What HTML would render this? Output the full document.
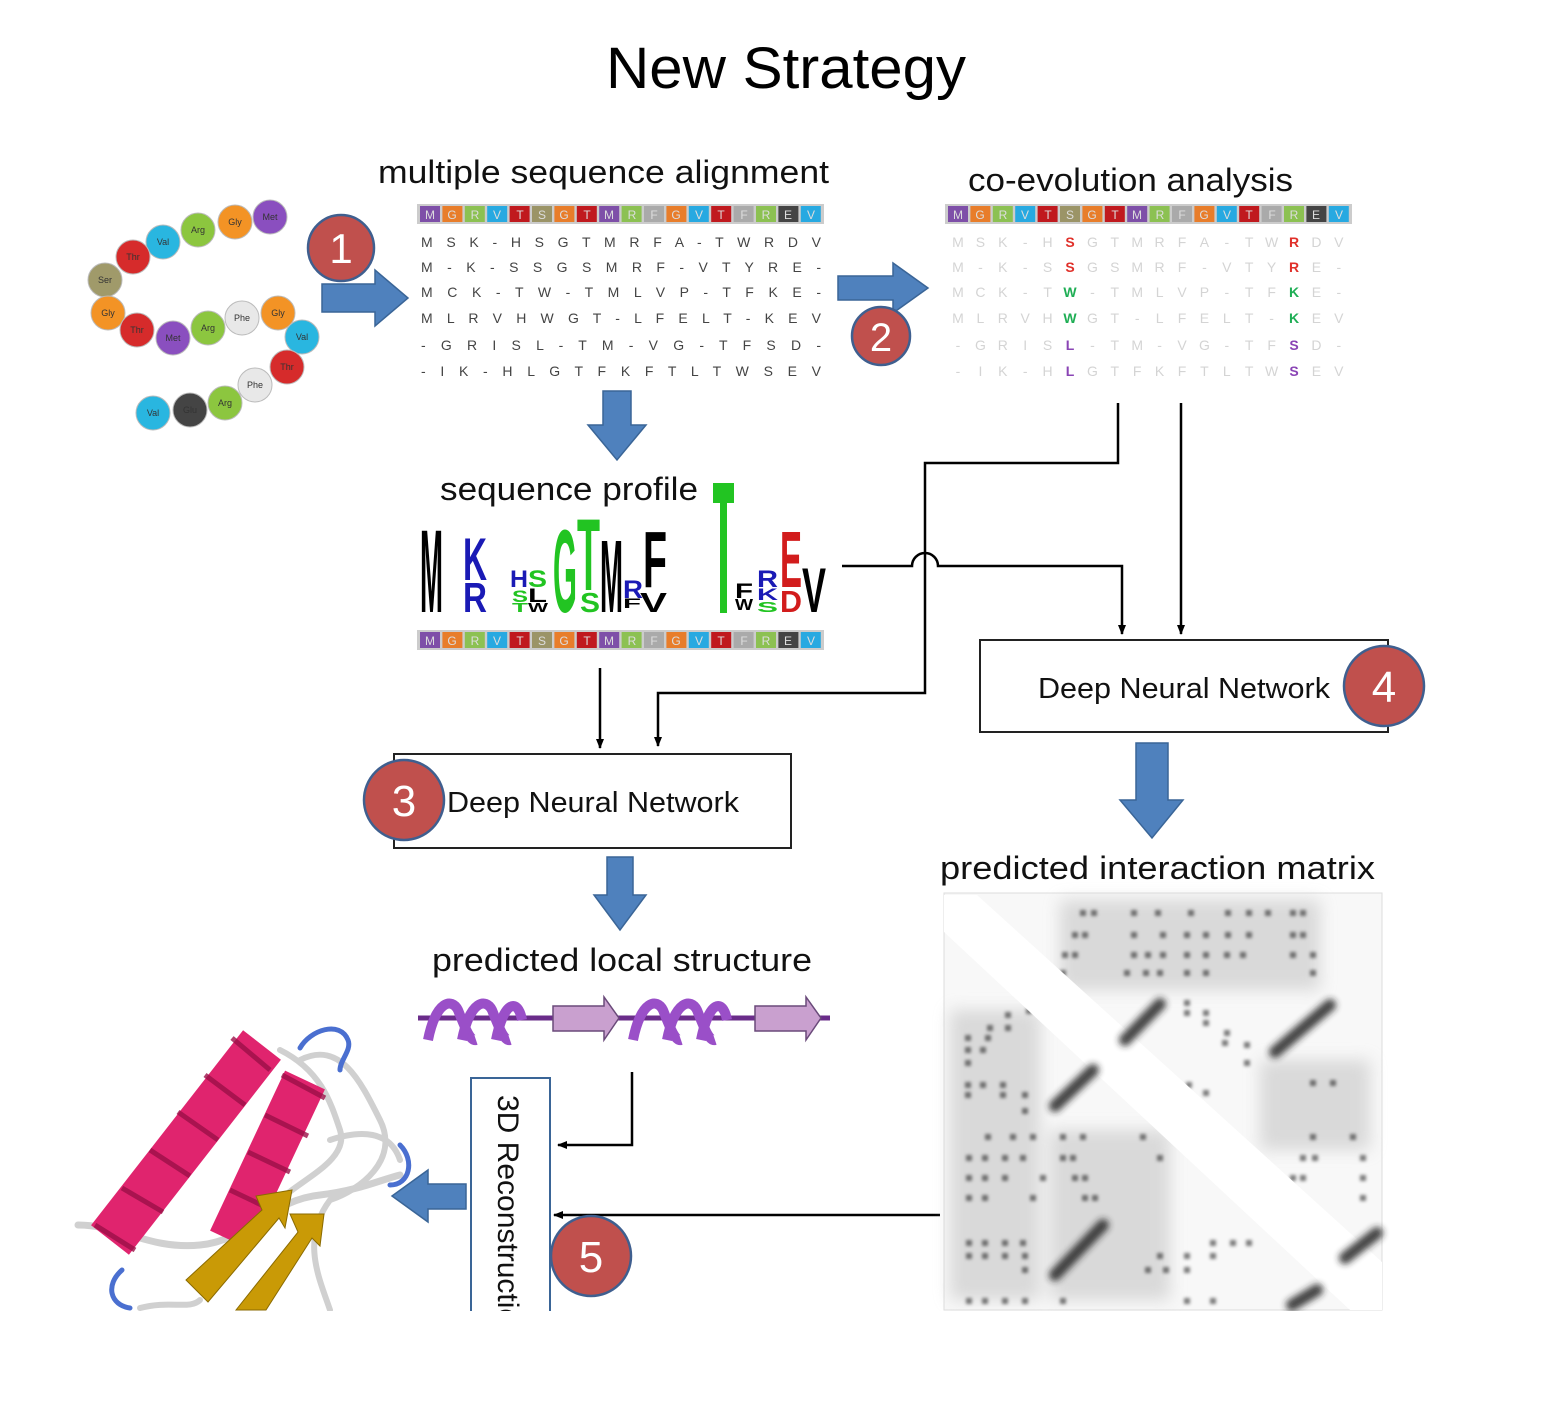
<!DOCTYPE html>
<html><head><meta charset="utf-8"><style>
html,body{margin:0;padding:0;background:#fff;}
svg{display:block;font-family:"Liberation Sans",sans-serif;}
</style></head><body>
<svg width="1550" height="1408" viewBox="0 0 1550 1408" xmlns="http://www.w3.org/2000/svg">
<defs>
<marker id="ah" markerWidth="10" markerHeight="10" refX="9" refY="5" orient="auto" markerUnits="userSpaceOnUse"><path d="M0,1 L10,5 L0,9 Z" fill="#000"/></marker>
<filter id="bl"><feGaussianBlur stdDeviation="3.5"/></filter>
<filter id="bl2"><feGaussianBlur stdDeviation="1.5"/></filter>
<filter id="bl3"><feGaussianBlur stdDeviation="8"/></filter>
</defs>

<text x="786" y="88" font-size="58" text-anchor="middle" fill="#000" textLength="360" lengthAdjust="spacingAndGlyphs">New Strategy</text>

<!-- beads -->
<g font-size="9" text-anchor="middle" fill="#333">
<g stroke="#bbb" stroke-width="1">
<circle cx="270" cy="217" r="17" fill="#8a4fbf"/><circle cx="235" cy="222" r="17" fill="#f39325"/>
<circle cx="198" cy="230" r="17" fill="#8cc63f"/><circle cx="163" cy="242" r="17" fill="#29b6e0"/>
<circle cx="133" cy="257" r="17" fill="#d62b2b"/><circle cx="105" cy="280" r="17" fill="#a09a6a"/>
<circle cx="108" cy="313" r="17" fill="#f39325"/><circle cx="137" cy="330" r="17" fill="#d62b2b"/>
<circle cx="173" cy="338" r="17" fill="#8a4fbf"/><circle cx="208" cy="328" r="17" fill="#8cc63f"/>
<circle cx="242" cy="318" r="17" fill="#e8e8e8"/><circle cx="278" cy="313" r="17" fill="#f39325"/>
<circle cx="302" cy="337" r="17" fill="#29b6e0"/><circle cx="287" cy="367" r="17" fill="#d62b2b"/>
<circle cx="255" cy="385" r="17" fill="#e8e8e8"/><circle cx="225" cy="403" r="17" fill="#8cc63f"/>
<circle cx="190" cy="410" r="17" fill="#444"/><circle cx="153" cy="413" r="17" fill="#29b6e0"/>
</g>
<text x="270" y="220">Met</text><text x="235" y="225">Gly</text><text x="198" y="233">Arg</text><text x="163" y="245">Val</text><text x="133" y="260">Thr</text><text x="105" y="283">Ser</text><text x="108" y="316">Gly</text><text x="137" y="333">Thr</text><text x="173" y="341">Met</text><text x="208" y="331">Arg</text><text x="242" y="321">Phe</text><text x="278" y="316">Gly</text><text x="302" y="340">Val</text><text x="287" y="370">Thr</text><text x="255" y="388">Phe</text><text x="225" y="406">Arg</text><text x="190" y="413">Glu</text><text x="153" y="416">Val</text>
</g>

<!-- labels -->
<text x="378" y="183" font-size="32" fill="#111" textLength="451" lengthAdjust="spacingAndGlyphs">multiple sequence alignment</text>
<text x="968" y="191" font-size="32" fill="#111" textLength="325" lengthAdjust="spacingAndGlyphs">co-evolution analysis</text>
<text x="440" y="500" font-size="32" fill="#111" textLength="258" lengthAdjust="spacingAndGlyphs">sequence profile</text>
<text x="940" y="879" font-size="32" fill="#111" textLength="435" lengthAdjust="spacingAndGlyphs">predicted interaction matrix</text>
<text x="432" y="971" font-size="32" fill="#111" textLength="380" lengthAdjust="spacingAndGlyphs">predicted local structure</text>

<!-- colour bars -->
<g id="bar1" font-size="12" text-anchor="middle" fill="#ddd">
<rect x="417" y="204" width="407" height="20" fill="#ccc"/>
<rect x="420" y="206" width="20" height="16" fill="#7e4fa8"/><rect x="442.4" y="206" width="20" height="16" fill="#e87d2a"/><rect x="464.8" y="206" width="20" height="16" fill="#8cc152"/><rect x="487.2" y="206" width="20" height="16" fill="#27a9e1"/><rect x="509.6" y="206" width="20" height="16" fill="#c0191e"/><rect x="532" y="206" width="20" height="16" fill="#9b9467"/><rect x="554.4" y="206" width="20" height="16" fill="#e87d2a"/><rect x="576.8" y="206" width="20" height="16" fill="#c0191e"/><rect x="599.2" y="206" width="20" height="16" fill="#7e4fa8"/><rect x="621.6" y="206" width="20" height="16" fill="#8cc152"/><rect x="644" y="206" width="20" height="16" fill="#aaa"/><rect x="666.4" y="206" width="20" height="16" fill="#e87d2a"/><rect x="688.8" y="206" width="20" height="16" fill="#27a9e1"/><rect x="711.2" y="206" width="20" height="16" fill="#c0191e"/><rect x="733.6" y="206" width="20" height="16" fill="#aaa"/><rect x="756" y="206" width="20" height="16" fill="#8cc152"/><rect x="778.4" y="206" width="20" height="16" fill="#444"/><rect x="800.8" y="206" width="20" height="16" fill="#27a9e1"/>
<text x="430" y="219">M</text><text x="452" y="219">G</text><text x="475" y="219">R</text><text x="497" y="219">V</text><text x="520" y="219">T</text><text x="542" y="219">S</text><text x="564" y="219">G</text><text x="587" y="219">T</text><text x="609" y="219">M</text><text x="632" y="219">R</text><text x="654" y="219">F</text><text x="676" y="219">G</text><text x="699" y="219">V</text><text x="721" y="219">T</text><text x="744" y="219">F</text><text x="766" y="219">R</text><text x="788" y="219">E</text><text x="811" y="219">V</text>
</g>
<use href="#bar1" x="528" y="0"/>
<use href="#bar1" x="0" y="426"/>

<!-- MSA -->
<g font-size="14" fill="#444" text-anchor="middle">
<text x="621" y="247" textLength="400" lengthAdjust="spacing">M S K - H S G T M R F A - T W R D V</text>
<text x="621" y="272" textLength="400" lengthAdjust="spacing">M - K - S S G S M R F - V T Y R E -</text>
<text x="621" y="297" textLength="400" lengthAdjust="spacing">M C K - T W - T M L V P - T F K E -</text>
<text x="621" y="323" textLength="400" lengthAdjust="spacing">M L R V H W G T - L F E L T - K E V</text>
<text x="621" y="350" textLength="400" lengthAdjust="spacing">- G R I S L - T M - V G - T F S D -</text>
<text x="621" y="376" textLength="400" lengthAdjust="spacing">- I K - H L G T F K F T L T W S E V</text>
</g>
<!-- co-evolution (x positions per column, excluding col 5 and 15) -->
<g font-size="14" fill="#d4d4d4" text-anchor="middle">
<text x="958 980.4 1002.8 1025.2 1047.6 1092.4 1114.8 1137.2 1159.6 1182 1204.4 1226.8 1249.2 1271.6 1316.4 1338.8" y="247">MSK-HGTMRFA-TWDV</text>
<text x="958 980.4 1002.8 1025.2 1047.6 1092.4 1114.8 1137.2 1159.6 1182 1204.4 1226.8 1249.2 1271.6 1316.4 1338.8" y="272">M-K-SGSMRF-VTYE-</text>
<text x="958 980.4 1002.8 1025.2 1047.6 1092.4 1114.8 1137.2 1159.6 1182 1204.4 1226.8 1249.2 1271.6 1316.4 1338.8" y="297">MCK-T-TMLVP-TFE-</text>
<text x="958 980.4 1002.8 1025.2 1047.6 1092.4 1114.8 1137.2 1159.6 1182 1204.4 1226.8 1249.2 1271.6 1316.4 1338.8" y="323">MLRVHGT-LFELT-EV</text>
<text x="958 980.4 1002.8 1025.2 1047.6 1092.4 1114.8 1137.2 1159.6 1182 1204.4 1226.8 1249.2 1271.6 1316.4 1338.8" y="350">-GRIS-TM-VG-TFD-</text>
<text x="958 980.4 1002.8 1025.2 1047.6 1092.4 1114.8 1137.2 1159.6 1182 1204.4 1226.8 1249.2 1271.6 1316.4 1338.8" y="376">-IK-HGTFKFTLTWEV</text>
</g>
<g font-size="14" font-weight="bold" text-anchor="middle">
<text x="1070" y="247" fill="#e0302a">S</text><text x="1294" y="247" fill="#e0302a">R</text>
<text x="1070" y="272" fill="#e0302a">S</text><text x="1294" y="272" fill="#e0302a">R</text>
<text x="1070" y="297" fill="#1fae55">W</text><text x="1294" y="297" fill="#1fae55">K</text>
<text x="1070" y="323" fill="#1fae55">W</text><text x="1294" y="323" fill="#1fae55">K</text>
<text x="1070" y="350" fill="#8a44b5">L</text><text x="1294" y="350" fill="#8a44b5">S</text>
<text x="1070" y="376" fill="#8a44b5">L</text><text x="1294" y="376" fill="#8a44b5">S</text>
</g>

<!-- sequence logo -->
<g font-weight="bold">
<text x="420" y="612" font-size="118" textLength="23" lengthAdjust="spacingAndGlyphs" fill="#000">M</text>
<text x="463" y="580" font-size="60" textLength="24" lengthAdjust="spacingAndGlyphs" fill="#1a1ab5">K</text>
<text x="463" y="612" font-size="42" textLength="24" lengthAdjust="spacingAndGlyphs" fill="#1a1ab5">R</text>
<text x="510" y="587" font-size="24" textLength="18" lengthAdjust="spacingAndGlyphs" fill="#1a1ab5">H</text>
<text x="528" y="587" font-size="24" textLength="19" lengthAdjust="spacingAndGlyphs" fill="#22c422">S</text>
<text x="512" y="602" font-size="17" textLength="16" lengthAdjust="spacingAndGlyphs" fill="#22c422">S</text>
<text x="528" y="602" font-size="19" textLength="19" lengthAdjust="spacingAndGlyphs" fill="#000">L</text>
<text x="512" y="612" font-size="13" textLength="16" lengthAdjust="spacingAndGlyphs" fill="#22c422">T</text>
<text x="528" y="612" font-size="13" textLength="20" lengthAdjust="spacingAndGlyphs" fill="#000">W</text>
<text x="553" y="612" font-size="118" textLength="24" lengthAdjust="spacingAndGlyphs" fill="#22c422">G</text>
<text x="577" y="590" font-size="102" textLength="23" lengthAdjust="spacingAndGlyphs" fill="#22c422">T</text>
<text x="580" y="612" font-size="28" textLength="20" lengthAdjust="spacingAndGlyphs" fill="#22c422">S</text>
<text x="600" y="612" font-size="103" textLength="23" lengthAdjust="spacingAndGlyphs" fill="#000">M</text>
<text x="623" y="598" font-size="25" textLength="20" lengthAdjust="spacingAndGlyphs" fill="#1a1ab5">R</text>
<text x="623" y="608" font-size="14" textLength="18" lengthAdjust="spacingAndGlyphs" fill="#000">F</text>
<text x="643" y="587" font-size="80" textLength="24" lengthAdjust="spacingAndGlyphs" fill="#000">F</text>
<text x="640" y="612" font-size="28" textLength="27" lengthAdjust="spacingAndGlyphs" fill="#000">V</text>
<rect x="713" y="483" width="21" height="20" fill="#22c422"/>
<rect x="720" y="500" width="7" height="113" fill="#22c422"/>
<text x="735" y="598" font-size="21" textLength="18" lengthAdjust="spacingAndGlyphs" fill="#000">F</text>
<text x="735" y="610" font-size="16" textLength="18" lengthAdjust="spacingAndGlyphs" fill="#000">W</text>
<text x="757" y="587" font-size="24" textLength="21" lengthAdjust="spacingAndGlyphs" fill="#1a1ab5">R</text>
<text x="757" y="600" font-size="17" textLength="21" lengthAdjust="spacingAndGlyphs" fill="#1a1ab5">K</text>
<text x="757" y="612" font-size="15" textLength="21" lengthAdjust="spacingAndGlyphs" fill="#22c422">S</text>
<text x="780" y="587" font-size="80" textLength="22" lengthAdjust="spacingAndGlyphs" fill="#d21c1c">E</text>
<text x="780" y="612" font-size="31" textLength="22" lengthAdjust="spacingAndGlyphs" fill="#d21c1c">D</text>
<text x="802" y="612" font-size="63" textLength="24" lengthAdjust="spacingAndGlyphs" fill="#000">V</text>
</g>

<!-- blue block arrows -->
<g fill="#4f81bd" stroke="#3a6597" stroke-width="1.5">
<path d="M322,284 H375 V270 L408,298 L375,326 V312 H322 Z"/>
<path d="M838,276 H893 V263 L928,288 L893,313 V300 H838 Z"/>
<path d="M603,391 H631 V425 H646 L617,460 L588,425 H603 Z"/>
<path d="M1136,743 H1168 V800 H1183 L1152,838 L1120,800 H1136 Z"/>
<path d="M607,857 H633 V895 H646 L620,930 L594,895 H607 Z"/>
<path d="M466,1184 H428 V1170 L392,1196 L428,1222 V1209 H466 Z"/>
</g>

<!-- connectors -->
<g fill="none" stroke="#000" stroke-width="2.5">
<path d="M1118,403 V463 H925 V693 H658 V746" marker-end="url(#ah)"/>
<path d="M1181,403 V634" marker-end="url(#ah)"/>
<path d="M842,566 H912 A13,13 0 0 1 938,566 H1122 V634" marker-end="url(#ah)"/>
<path d="M600,668 V748" marker-end="url(#ah)"/>
<path d="M632,1072 V1145 H558" marker-end="url(#ah)"/>
<path d="M940,1215 H554" marker-end="url(#ah)"/>
</g>

<!-- DNN boxes -->
<rect x="980" y="640" width="408" height="92" fill="#fff" stroke="#222" stroke-width="2"/>
<text x="1038" y="698" font-size="29" fill="#111" textLength="292" lengthAdjust="spacingAndGlyphs">Deep Neural Network</text>
<rect x="394" y="754" width="397" height="94" fill="#fff" stroke="#222" stroke-width="2"/>
<text x="447" y="812" font-size="29" fill="#111" textLength="292" lengthAdjust="spacingAndGlyphs">Deep Neural Network</text>

<!-- 3D Reconstruction -->
<rect x="471" y="1078" width="79" height="240" fill="#fff" stroke="#3a6597" stroke-width="2"/>
<text transform="translate(498,1095) rotate(90)" font-size="30" fill="#111">3D Reconstruction</text>

<!-- numbered circles -->
<g stroke="#3f5f8f" stroke-width="2.5" fill="#c0504d">
<circle cx="341" cy="248" r="33"/><circle cx="881" cy="336" r="29"/>
<circle cx="404" cy="800" r="40"/><circle cx="1384" cy="686" r="40"/><circle cx="591" cy="1256" r="40"/>
</g>
<g fill="#fff" text-anchor="middle">
<text x="341" y="263" font-size="42">1</text><text x="881" y="351" font-size="40">2</text>
<text x="404" y="816" font-size="44">3</text><text x="1384" y="702" font-size="44">4</text><text x="591" y="1272" font-size="44">5</text>
</g>

<!-- local structure -->
<line x1="418" y1="1018" x2="830" y2="1018" stroke="#6a2c8a" stroke-width="5"/>
<g fill="none" stroke="#9a4fc8" stroke-width="10">
<path d="M428,1040 C436,1000 452,998 458,1010 C464,1025 470,1042 476,1040"/>
<path d="M462,1040 C470,1000 486,998 492,1010 C498,1025 504,1042 510,1040"/>
<path d="M496,1040 C504,1000 518,998 522,1020"/>
<path d="M633,1040 C641,1000 657,998 663,1010 C669,1025 675,1042 681,1040"/>
<path d="M667,1040 C675,1000 691,998 697,1010 C703,1025 709,1042 715,1040"/>
<path d="M701,1040 C709,1000 723,998 727,1020"/>
</g>
<g fill="#c9a0cf" stroke="#6a4a7a" stroke-width="1.5">
<path d="M553,1006 H604 V997 L619,1018 L604,1040 V1031 H553 Z"/>
<path d="M755,1006 H806 V997 L821,1018 L806,1040 V1031 H755 Z"/>
</g>

<!-- interaction matrix -->
<rect x="944" y="893" width="438" height="417" fill="#f8f8f8" stroke="#ddd"/>
<g fill="#ccc" filter="url(#bl3)" opacity="0.7">
<rect x="1060" y="900" width="260" height="90"/>
<rect x="950" y="1010" width="90" height="290"/>
<rect x="1050" y="1130" width="120" height="170"/>
<rect x="1260" y="1060" width="110" height="90"/>
</g>
<g fill="#000" filter="url(#bl2)">
<g opacity="0.5">
<rect x="1080" y="910" width="6" height="6"/><rect x="1091" y="910" width="6" height="6"/><rect x="1131" y="910" width="6" height="6"/><rect x="1188" y="910" width="6" height="6"/><rect x="1225" y="910" width="6" height="6"/><rect x="1246" y="910" width="6" height="6"/><rect x="1290" y="910" width="6" height="6"/><rect x="1300" y="910" width="6" height="6"/><rect x="1155" y="910" width="6" height="6"/><rect x="1265" y="910" width="6" height="6"/>
<rect x="1072" y="932" width="6" height="6"/><rect x="1082" y="932" width="6" height="6"/><rect x="1131" y="932" width="6" height="6"/><rect x="1203" y="932" width="6" height="6"/><rect x="1225" y="932" width="6" height="6"/><rect x="1246" y="932" width="6" height="6"/><rect x="1290" y="932" width="6" height="6"/><rect x="1300" y="932" width="6" height="6"/><rect x="1160" y="932" width="6" height="6"/><rect x="1184" y="932" width="6" height="6"/>
<rect x="1062" y="952" width="6" height="6"/><rect x="1072" y="952" width="6" height="6"/><rect x="1131" y="952" width="6" height="6"/><rect x="1184" y="952" width="6" height="6"/><rect x="1203" y="952" width="6" height="6"/><rect x="1224" y="952" width="6" height="6"/><rect x="1240" y="952" width="6" height="6"/><rect x="1290" y="952" width="6" height="6"/><rect x="1310" y="952" width="6" height="6"/><rect x="1145" y="952" width="6" height="6"/><rect x="1160" y="952" width="6" height="6"/>
<rect x="1060" y="970" width="6" height="6"/><rect x="1143" y="970" width="6" height="6"/><rect x="1157" y="970" width="6" height="6"/><rect x="1184" y="970" width="6" height="6"/><rect x="1203" y="970" width="6" height="6"/><rect x="1310" y="970" width="6" height="6"/><rect x="1124" y="970" width="6" height="6"/>
<rect x="1184" y="1000" width="6" height="6"/><rect x="1184" y="1010" width="6" height="6"/><rect x="1203" y="1010" width="6" height="6"/><rect x="1203" y="1020" width="6" height="6"/><rect x="1224" y="1030" width="6" height="6"/><rect x="1244" y="1042" width="6" height="6"/><rect x="1222" y="1040" width="6" height="6"/><rect x="1244" y="1060" width="6" height="6"/>
<rect x="1026" y="1008" width="6" height="6"/><rect x="1005" y="1012" width="6" height="6"/><rect x="987" y="1025" width="6" height="6"/><rect x="1005" y="1025" width="6" height="6"/><rect x="965" y="1035" width="6" height="6"/><rect x="985" y="1035" width="6" height="6"/><rect x="965" y="1047" width="6" height="6"/><rect x="965" y="1060" width="6" height="6"/><rect x="980" y="1047" width="6" height="6"/>
<rect x="965" y="1082" width="6" height="6"/><rect x="980" y="1082" width="6" height="6"/><rect x="1000" y="1082" width="6" height="6"/><rect x="1000" y="1092" width="6" height="6"/><rect x="1022" y="1092" width="6" height="6"/><rect x="1022" y="1108" width="6" height="6"/><rect x="965" y="1092" width="6" height="6"/>
<rect x="1180" y="1112" width="6" height="6"/><rect x="1203" y="1090" width="6" height="6"/><rect x="1186" y="1082" width="6" height="6"/><rect x="1310" y="1080" width="6" height="6"/><rect x="1330" y="1080" width="6" height="6"/>
<rect x="1010" y="1134" width="6" height="6"/><rect x="1060" y="1134" width="6" height="6"/><rect x="1080" y="1134" width="6" height="6"/><rect x="1140" y="1134" width="6" height="6"/><rect x="1310" y="1134" width="6" height="6"/><rect x="1350" y="1134" width="6" height="6"/><rect x="985" y="1134" width="6" height="6"/><rect x="1030" y="1134" width="6" height="6"/>
<rect x="982" y="1155" width="6" height="6"/><rect x="1002" y="1155" width="6" height="6"/><rect x="1020" y="1155" width="6" height="6"/><rect x="1060" y="1155" width="6" height="6"/><rect x="1070" y="1155" width="6" height="6"/><rect x="1157" y="1155" width="6" height="6"/><rect x="1300" y="1155" width="6" height="6"/><rect x="1312" y="1155" width="6" height="6"/><rect x="1360" y="1155" width="6" height="6"/><rect x="966" y="1155" width="6" height="6"/>
<rect x="966" y="1175" width="6" height="6"/><rect x="982" y="1175" width="6" height="6"/><rect x="1002" y="1175" width="6" height="6"/><rect x="1072" y="1175" width="6" height="6"/><rect x="1082" y="1175" width="6" height="6"/><rect x="1290" y="1175" width="6" height="6"/><rect x="1300" y="1175" width="6" height="6"/><rect x="1360" y="1175" width="6" height="6"/><rect x="1040" y="1175" width="6" height="6"/>
<rect x="966" y="1195" width="6" height="6"/><rect x="982" y="1195" width="6" height="6"/><rect x="1082" y="1195" width="6" height="6"/><rect x="1092" y="1195" width="6" height="6"/><rect x="1290" y="1195" width="6" height="6"/><rect x="1360" y="1195" width="6" height="6"/><rect x="1030" y="1195" width="6" height="6"/>
<rect x="966" y="1240" width="6" height="6"/><rect x="982" y="1240" width="6" height="6"/><rect x="1002" y="1240" width="6" height="6"/><rect x="1210" y="1240" width="6" height="6"/><rect x="1230" y="1240" width="6" height="6"/><rect x="1246" y="1240" width="6" height="6"/><rect x="1020" y="1240" width="6" height="6"/>
<rect x="966" y="1253" width="6" height="6"/><rect x="982" y="1253" width="6" height="6"/><rect x="1002" y="1253" width="6" height="6"/><rect x="1022" y="1253" width="6" height="6"/><rect x="1157" y="1253" width="6" height="6"/><rect x="1184" y="1253" width="6" height="6"/><rect x="1210" y="1253" width="6" height="6"/>
<rect x="1022" y="1267" width="6" height="6"/><rect x="1145" y="1267" width="6" height="6"/><rect x="1163" y="1267" width="6" height="6"/><rect x="1184" y="1267" width="6" height="6"/>
<rect x="966" y="1298" width="6" height="6"/><rect x="982" y="1298" width="6" height="6"/><rect x="1002" y="1298" width="6" height="6"/><rect x="1022" y="1298" width="6" height="6"/><rect x="1184" y="1298" width="6" height="6"/><rect x="1210" y="1298" width="6" height="6"/><rect x="1060" y="1298" width="6" height="6"/>
</g>
</g>
<polygon points="950,895 977,895 1382,1262 1382,1310 1350,1310 944,932 944,895" fill="#fff"/>
<g stroke="#222" stroke-width="12" stroke-linecap="round" filter="url(#bl)" opacity="0.85">
<line x1="1125" y1="1040" x2="1160" y2="1004"/>
<line x1="1275" y1="1052" x2="1330" y2="1005"/>
<line x1="1055" y1="1106" x2="1093" y2="1070"/>
<line x1="1055" y1="1275" x2="1103" y2="1225"/>
<line x1="1345" y1="1258" x2="1377" y2="1233"/>
<line x1="1292" y1="1305" x2="1317" y2="1290"/>
</g>

<!-- protein -->
<g fill="none" stroke-linecap="round">
<path d="M78,1225 C120,1225 150,1250 200,1245 C250,1240 270,1200 320,1195 C360,1190 380,1180 400,1175" stroke="#d0d0d0" stroke-width="7"/>
<path d="M300,1060 C340,1040 360,1080 380,1120 C400,1160 360,1190 330,1200 C300,1240 320,1280 330,1310" stroke="#d0d0d0" stroke-width="6"/>
<path d="M280,1050 C320,1070 330,1100 340,1130 C350,1160 300,1180 280,1200" stroke="#d0d0d0" stroke-width="6"/>
<path d="M330,1140 C360,1130 390,1130 400,1160" stroke="#d0d0d0" stroke-width="6"/>
<path d="M300,1048 C310,1030 340,1020 348,1040 C352,1050 340,1060 340,1070" stroke="#4a6fd0" stroke-width="5"/>
<path d="M400,1145 C415,1160 410,1185 390,1185" stroke="#4a6fd0" stroke-width="5"/>
<path d="M122,1270 C105,1285 110,1305 130,1308" stroke="#4a6fd0" stroke-width="5"/>
<path d="M140,1308 C170,1300 190,1310 200,1300" stroke="#d0d0d0" stroke-width="6"/>
</g>
<g stroke-linecap="butt" fill="none">
<line x1="262" y1="1045" x2="110" y2="1240" stroke="#e0246e" stroke-width="48"/>
<line x1="305" y1="1080" x2="230" y2="1240" stroke="#e0246e" stroke-width="44"/>
</g>
<g stroke="#9c1048" stroke-width="5" fill="none" opacity="0.8">
<path d="M232,1038 L270,1070"/><path d="M205,1075 L245,1105"/><path d="M178,1112 L218,1140"/><path d="M150,1150 L190,1176"/><path d="M122,1188 L163,1212"/><path d="M95,1225 L135,1250"/>
<path d="M282,1075 L325,1098"/><path d="M265,1115 L308,1136"/><path d="M248,1152 L290,1172"/><path d="M230,1190 L272,1210"/>
</g>
<g fill="#c99a06" stroke="#8a6a00" stroke-width="1">
<path d="M186,1280 L262,1210 L256,1196 L292,1190 L285,1228 L279,1218 L208,1302 Z"/>
<path d="M236,1310 L298,1232 L290,1214 L324,1214 L320,1246 L312,1238 L266,1310 Z"/>
</g>
<rect x="0" y="1311" width="1550" height="97" fill="#fff"/>
</svg>
</body></html>
